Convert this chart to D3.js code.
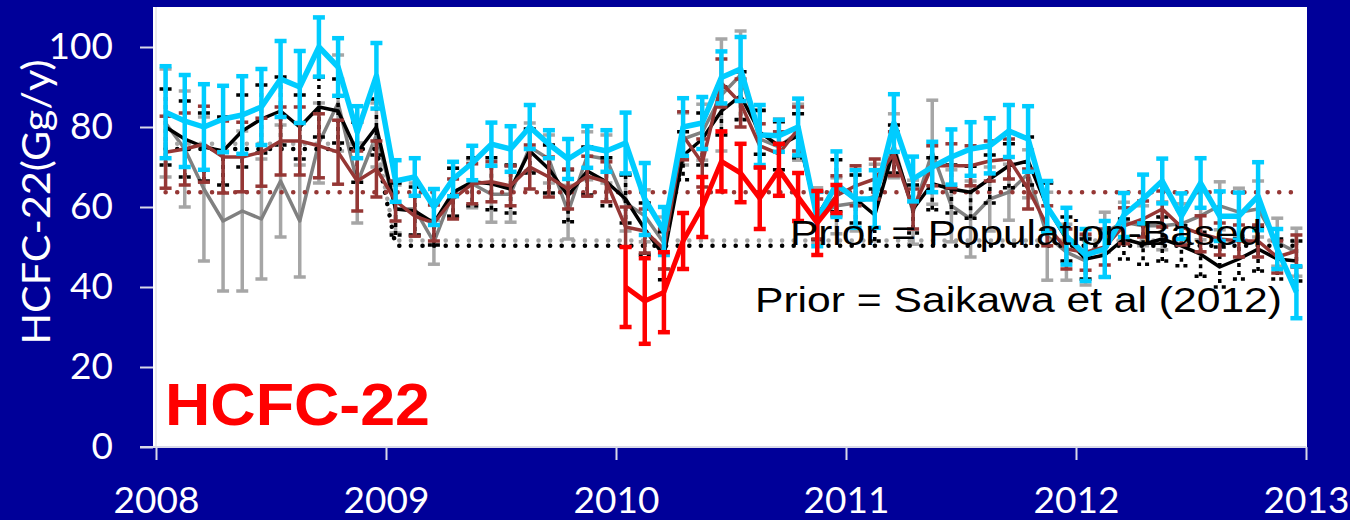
<!DOCTYPE html>
<html>
<head>
<meta charset="utf-8">
<script src="https://cdn.jsdelivr.net/npm/d3@7"></script>
<style>
  body { margin: 0; background: #000099; }
  svg { display: block; }
</style>
</head>
<body>
<script>
const width = 1350, height = 520;

const yearTicks = [2008, 2009, 2010, 2011, 2012, 2013];
const valueTicks = [0, 20, 40, 60, 80, 100];

// monthly estimates, Jan 2008 .. Dec 2012 (Gg/y)
const cyanVals = [
  83.7, 81.5, 80, 82, 83, 85, 92, 90, 100, 95, 78.7, 92.8,
  66.5, 67.5, 60, 67, 71, 75.7, 74.5, 80, 75.7, 72, 75, 74,
  76, 62, 54, 80, 81, 92.4, 94.5, 78, 77.8, 80, 57, 65.7,
  62, 62, 81, 67, 70, 72.5, 74.5, 75.3, 79, 77, 60, 52.7,
  48, 49.5, 58, 62, 66.5, 57.7, 66, 57.7, 57.7, 62.7, 49.5, 38.7
];
const cyanErr = [
  11.5, 11.5, 10.7, 8.3, 9.7, 9.5, 9.5, 9, 7.4, 7.2, 6.5, 8.2,
  5.2, 4.7, 4.5, 4.3, 4.3, 5.4, 5.7, 5.5, 3.5, 5, 5.2, 5.2,
  7.6, 9, 6, 7.2, 6.5, 6.5, 8, 7.5, 4, 7.1, 6.8, 8.2,
  7.2, 7.2, 7.2, 5.6, 6.3, 6.9, 6.7, 6.9, 6.5, 8.2, 6.5, 7.1,
  6.5, 7, 5.5, 6.1, 5.6, 5.7, 6.2, 6.2, 5.9, 8.5, 5, 6.5
];

const blackVals = [
  80, 77, 75, 74, 79, 82, 84, 80, 85, 84, 73.7, 80,
  59.5, 59, 56, 63.7, 66.3, 65.8, 64.5, 74, 69.5, 62.8, 69, 66.3,
  62, 54.5, 47.8, 72.8, 77, 84, 87.8, 78.7, 75.3, 77.8, 57.8, 65.3,
  62, 58, 74.5, 59.5, 65.8, 64.5, 63.7, 67, 70.3, 71.5, 60, 52,
  47, 48, 52, 50.7, 52, 50.3, 48.2, 45, 47, 49.5, 47, 46.5
];
const blackErr = [
  9.5, 9.5, 8.5, 8.5, 9, 8.5, 8.5, 8, 7.5, 8, 7.5, 7,
  6.5, 6, 5.5, 6, 6, 6.5, 6, 5.5, 6, 6.5, 6, 6,
  6, 6.5, 6, 6, 6.5, 6, 6, 5.5, 6, 5.5, 6, 6.5,
  6, 6.5, 6, 6, 6.5, 6, 6.5, 6, 5.5, 6, 6, 5.5,
  5, 5.5, 5, 5, 5.5, 5, 5.5, 5, 5, 5.5, 5, 5
];

const grayVals = [
  81, 74.5, 64.5, 56.5, 59, 57, 66.5, 56.5, 76, 86, 66, 78,
  59.5, 59.5, 51.2, 63.7, 65.8, 63.2, 63.2, 75, 72, 58.7, 72.8, 72,
  61, 57.8, 51, 77, 78.7, 88, 93, 77, 75, 78.7, 57.8, 60.3,
  61, 62.7, 75.3, 58.7, 73.7, 60.3, 57, 62, 63.7, 68.3, 52.7, 48.7,
  46.5, 53.7, 56.2, 55.3, 55.3, 55.8, 57.8, 60.3, 58.7, 59.5, 51.2, 48.7
];
const grayErr = [
  13.5, 14.5, 18, 17.5, 20, 15, 14, 14, 10, 12, 10, 8,
  6, 6.5, 5.5, 6, 6, 7, 7, 6, 6, 6.7, 6, 6,
  7, 6.5, 6.5, 6.5, 7, 14, 11, 7, 7, 7, 7, 7,
  7, 8, 8, 8, 13, 9, 9.5, 8, 7, 6, 11, 7,
  6, 5, 5, 5, 6, 5, 6, 6, 6, 7, 6, 6
];

const brownVals = [
  73.7, 74.5, 75.7, 72.5, 72.5, 73.7, 76.5, 76.5, 75.3, 73.7, 66.5, 69.5,
  61.5, 57.7, 56, 62, 65.8, 66.3, 65.3, 70, 67.5, 64.5, 67.7, 66.3,
  55, 54, 49.5, 77.8, 71, 91, 86, 75.3, 73.3, 79.5, 57, 62.8,
  65.3, 67, 73.3, 59.5, 70.3, 70.3, 70.3, 71.5, 72, 64.5, 55.3, 49.5,
  48.7, 50, 55.3, 57, 59.5, 55, 53.3, 52, 51.5, 51.5, 47.5, 49
];
const brownErr = [
  9, 9, 9.5, 9, 8.7, 8.5, 8.5, 8.5, 8, 8, 7.5, 7,
  5, 5, 4.5, 5, 5, 5, 5, 5.5, 5, 5, 5, 5,
  5, 5.5, 5, 6, 6, 6, 6, 5.5, 5.5, 5.5, 5, 5,
  5, 5, 5.5, 5, 5, 5.5, 5, 5, 5, 5, 5, 5,
  4.5, 4.5, 4.5, 4.5, 4.5, 4.5, 4.5, 4, 4, 4, 4, 4
];

// 2010 only
const redStart = 24;
const redVals = [40, 36.5, 38.7, 51.5, 60, 71.4, 68.5, 62.2, 69.3, 62.5, 56, 62];
const redErr = [10, 10.7, 10, 7, 7.5, 7.5, 7.3, 7.7, 6.5, 6, 8, 3.5];

// prior totals per year
const priorPopBlack = [74.5, 50.3, 50.3, 50.3, 50.3];
const priorPopGray = [75.8, 51.6, 51.6, 51.6, 51.6];
const priorSaikawa = [63.7, 63.7, 63.7, 63.7, 63.7];


const x = d3.scaleLinear().domain([2008, 2013]).range([156, 1306]);
const y = d3.scaleLinear().domain([0, 110]).range([447, 7]);
const mx = i => x(2008 + (i + 0.5) / 12);

const svg = d3.select("body").append("svg")
  .attr("width", width)
  .attr("height", height);

svg.append("rect")
  .attr("width", width).attr("height", height)
  .attr("fill", "#000099");

svg.append("rect")
  .attr("x", 153).attr("y", y(110))
  .attr("width", 1307 - 153).attr("height", y(0) - y(110))
  .attr("fill", "#ffffff");

svg.append("line")
  .attr("x1", x(2008)).attr("x2", x(2008))
  .attr("y1", y(110)).attr("y2", y(0))
  .attr("stroke", "#e4e4e4").attr("stroke-width", 1.5);

// axes
let yAxis = svg.append("g")
  .attr("transform", "translate(153,0)")
  .call(d3.axisLeft(y).tickValues(valueTicks).tickSize(13).tickPadding(27));

let xAxis = svg.append("g")
  .attr("transform", `translate(0,${y(0)})`)
  .call(d3.axisBottom(x).tickValues(yearTicks).tickFormat(d3.format("d")).tickSize(13).tickPadding(27));

[yAxis, xAxis].forEach(a => {
  a.selectAll("line").attr("stroke", "#d9d9e8").attr("stroke-width", 2);
  a.selectAll("text")
    .attr("fill", "#ffffff")
    .style("font-family", "Lato, 'Open Sans', sans-serif")
    .style("font-size", "37px");
});
yAxis.select(".domain").remove();
xAxis.select(".domain").attr("stroke", "#d9d9e8").attr("stroke-width", 2)
  .attr("d", `M140,0H${x(2013)}`);

svg.append("text")
  .attr("transform", "translate(50,202) rotate(-90)")
  .attr("text-anchor", "middle")
  .attr("fill", "#ffffff")
  .attr("textLength", 285)
  .attr("lengthAdjust", "spacingAndGlyphs")
  .style("font-family", "Lato, 'Open Sans', sans-serif")
  .style("font-size", "39px")
  .text("HCFC-22(Gg/y)");

function monthly(perYear) {
  return d3.range(60).map(i => ({i, v: perYear[Math.floor(i / 12)]}));
}

function drawPrior(perYear, color) {
  svg.append("path")
    .datum(monthly(perYear))
    .attr("fill", "none")
    .attr("stroke", color)
    .attr("stroke-width", 4.5)
    .attr("stroke-linecap", "round")
    .attr("stroke-dasharray", "0.1,11.5")
    .attr("d", d3.line().x(d => mx(d.i)).y(d => y(d.v)));
}

function drawSeries(vals, errs, start, o) {
  let pts = vals.map((v, k) => ({i: k + start, v, e: errs[k]}));
  let g = svg.append("g");

  let bars = g.selectAll("g.bar")
    .data(pts)
    .enter().append("g")
    .attr("class", "bar")
    .attr("stroke", o.barColor)
    .attr("stroke-width", o.barWidth)
    .attr("stroke-dasharray", o.dash || null);

  bars.append("line")
    .attr("x1", d => mx(d.i)).attr("x2", d => mx(d.i))
    .attr("y1", d => y(d.v + d.e)).attr("y2", d => y(d.v - d.e));
  bars.append("line")
    .attr("x1", d => mx(d.i) - o.cap).attr("x2", d => mx(d.i) + o.cap)
    .attr("y1", d => y(d.v + d.e)).attr("y2", d => y(d.v + d.e));
  bars.append("line")
    .attr("x1", d => mx(d.i) - o.cap).attr("x2", d => mx(d.i) + o.cap)
    .attr("y1", d => y(d.v - d.e)).attr("y2", d => y(d.v - d.e));

  g.append("path")
    .datum(pts)
    .attr("fill", "none")
    .attr("stroke", o.lineColor)
    .attr("stroke-width", o.lineWidth)
    .attr("stroke-linejoin", "round")
    .attr("d", d3.line().x(d => mx(d.i)).y(d => y(d.v)));
}

drawSeries(grayVals, grayErr, 0, {
  lineColor: "#808080", lineWidth: 3.5, barColor: "#a6a6a6", barWidth: 3.5, cap: 6
});

drawPrior(priorPopGray, "#a6a6a6");
drawPrior(priorPopBlack, "#000000");
drawPrior(priorSaikawa, "#953735");

drawSeries(blackVals, blackErr, 0, {
  lineColor: "#000000", lineWidth: 3.5, barColor: "#000000", barWidth: 3.5, cap: 6, dash: "4,4"
});

drawSeries(brownVals, brownErr, 0, {
  lineColor: "#953735", lineWidth: 3.5, barColor: "#953735", barWidth: 3.5, cap: 6
});

drawSeries(cyanVals, cyanErr, 0, {
  lineColor: "#00ccff", lineWidth: 5.5, barColor: "#00ccff", barWidth: 4.5, cap: 6
});

drawSeries(redVals, redErr, redStart, {
  lineColor: "#ff0000", lineWidth: 5, barColor: "#ff0000", barWidth: 4.5, cap: 6
});

// labels
svg.append("text")
  .attr("x", 790).attr("y", 245)
  .attr("textLength", 472)
  .attr("lengthAdjust", "spacingAndGlyphs")
  .style("font-family", "Arial, 'Liberation Sans', sans-serif")
  .style("font-size", "35px")
  .attr("fill", "#000000")
  .text("Prior = Population-Based");

svg.append("text")
  .attr("x", 755).attr("y", 312)
  .attr("textLength", 527)
  .attr("lengthAdjust", "spacingAndGlyphs")
  .style("font-family", "Arial, 'Liberation Sans', sans-serif")
  .style("font-size", "35px")
  .attr("fill", "#000000")
  .text("Prior = Saikawa et al (2012)");

svg.append("text")
  .attr("x", 165).attr("y", 425)
  .attr("textLength", 265)
  .attr("lengthAdjust", "spacingAndGlyphs")
  .style("font-family", "Arial, 'Liberation Sans', sans-serif")
  .style("font-size", "60px")
  .style("font-weight", "bold")
  .attr("fill", "#ff0000")
  .text("HCFC-22");
</script>
</body>
</html>
